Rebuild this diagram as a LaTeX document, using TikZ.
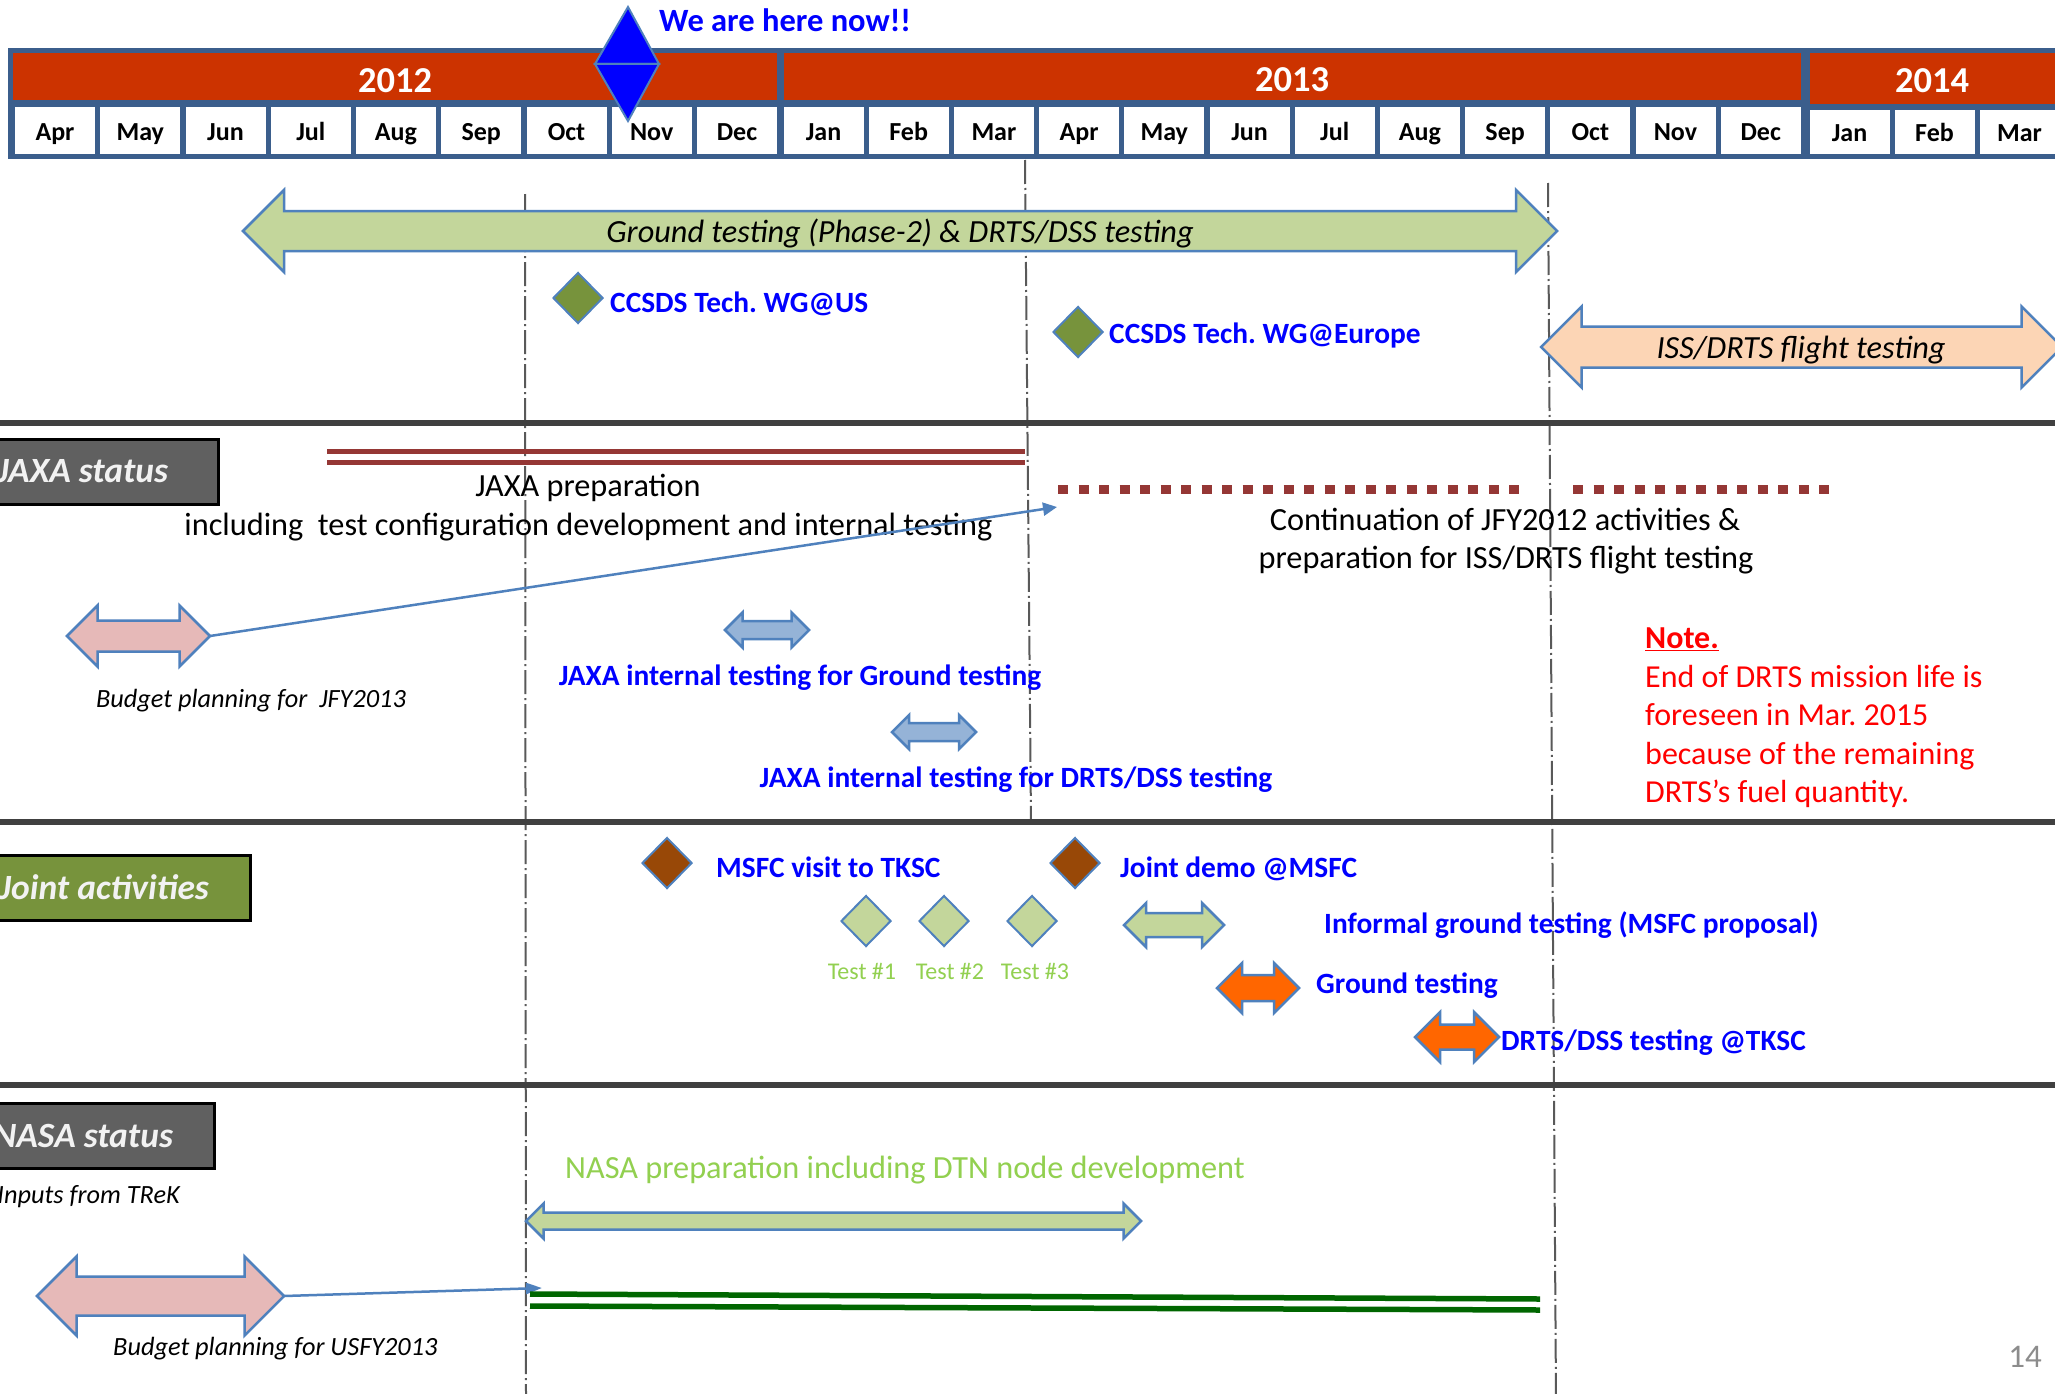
\documentclass[tikz,border=0pt]{standalone}
\usepackage{fontspec}
\setmainfont{Carlito}
\usetikzlibrary{arrows.meta,shapes.geometric,positioning}

\definecolor{yearred}{RGB}{204,51,0}
\definecolor{frameblue}{RGB}{59,94,140}
\definecolor{edgeblue}{RGB}{79,129,189}
\definecolor{textblue}{RGB}{0,0,255}
\definecolor{palegreen}{RGB}{195,214,155}
\definecolor{olivegreen}{RGB}{119,147,60}
\definecolor{peach}{RGB}{252,213,181}
\definecolor{rosepink}{RGB}{230,185,184}
\definecolor{steel}{RGB}{149,179,215}
\definecolor{flame}{RGB}{255,102,0}
\definecolor{rust}{RGB}{152,72,7}
\definecolor{maroon}{RGB}{149,55,53}
\definecolor{forest}{RGB}{0,102,0}
\definecolor{hdrgray}{RGB}{96,96,96}
\definecolor{rulegray}{RGB}{64,64,64}
\definecolor{testgreen}{RGB}{146,208,80}
\definecolor{dashgray}{RGB}{89,89,89}
\definecolor{pagegray}{RGB}{140,140,140}

\newcommand{\fsz}[1]{\fontsize{#1}{#1}\selectfont}
% name, style, x west, x east, y, shaft half, head half
\newcommand{\dblarrow}[7]{%
  \draw[#2] (#3,#5) coordinate (#1-w) -- ++(#7,-#7) -- ++(0,{#7-#6})
    -- ({#4-#7},{#5-#6}) -- ++(0,{#6-#7}) -- (#4,#5) coordinate (#1-e)
    -- ++(-#7,#7) -- ++(0,{#6-#7}) -- ({#3+#7},{#5+#6}) -- ++(0,{#7-#6}) -- cycle;}

\tikzset{
  month/.style={fill=white, minimum width=80pt, minimum height=47pt, inner sep=0pt, text height=20pt, text depth=0pt, font=\fsz{26}\bfseries},
  yeartxt/.style={text=white, inner sep=0pt, font=\fsz{36.5}\bfseries},
  plain/.style={inner sep=0pt, font=\fsz{32.3}},
  slant/.style={inner sep=0pt, font=\fsz{32.3}\itshape},
  small slant/.style={inner sep=0pt, font=\fsz{26.3}\itshape},
  event/.style={inner sep=0pt, text=textblue, font=\fsz{29.4}\bfseries},
  testlbl/.style={inner sep=0pt, text=testgreen, font=\fsz{24}},
  milestone/.style={diamond, draw=edgeblue, line width=2pt, minimum width=50pt, minimum height=51pt, inner sep=0pt},
  sechdr/.style={draw=black, line width=3pt, anchor=east, minimum height=65pt, inner ysep=0pt, text=white!95!black, font=\fsz{35.5}\bfseries\itshape},
  band/.style={draw=edgeblue, line width=2.5pt, line join=miter},
  nowmark/.style={fill=textblue, draw=edgeblue, line width=2pt, line join=miter},
  rulesep/.style={rulegray, line width=6pt},
  monthline/.style={dashgray, line width=2pt, dash pattern=on 24pt off 4pt on 2pt off 4pt},
  link/.style={edgeblue, line width=2.5pt, -{Triangle[length=14pt,width=13pt]}},
}

\begin{document}
\frenchspacing
\begin{tikzpicture}[x=1pt, y=-1pt]
\useasboundingbox (0,0) rectangle (2055,1394);
\fill[white] (0,0) rectangle (2055,1394);
\clip (0,0) rectangle (2055,1394);

% month guides
\coordinate (v1a) at (525,194);  \coordinate (v1b) at (526,1400);
\coordinate (v2a) at (1025,160); \coordinate (v2b) at (1031,822);
\coordinate (v3a) at (1548,183); \coordinate (v3b) at (1556,1400);
\draw[monthline] (v1a) -- (v1b);
\draw[monthline] (v2a) -- (v2b);
\draw[monthline] (v3a) -- (v3b);

% calendar
\fill[frameblue] (8,48) rectangle (2070,159);
\fill[yearred] (13,53) rectangle (777,100);
\fill[yearred] (784,53) rectangle (1801,100);
\fill[yearred] (1810,53) rectangle (2070,104);
\node[yeartxt, anchor=base] (y12) at (395,92.5) {2012};
\node[yeartxt, anchor=base] (y13) at (1292,92) {2013};
\node[yeartxt, anchor=base] (y14) at (1932,93) {2014};
\foreach \m [count=\i from 0] in {Apr,May,Jun,Jul,Aug,Sep,Oct,Nov,Dec}
  \node[month] (m12-\i) at ({55+85.25*\i},130.5) {\m};
\foreach \m [count=\i from 0] in {Jan,Feb,Mar,Apr,May,Jun,Jul,Aug,Sep,Oct,Nov,Dec}
  \node[month] (m13-\i) at ({823.5+85.2*\i},130.5) {\m};
\foreach \m [count=\i from 0] in {Jan,Feb,Mar}
  \node[month, minimum height=44pt] (m14-\i) at ({1849.5+85*\i},132) {\m};

\draw[nowmark] (628,7) -- (659,64) -- (595,64) -- cycle;
\draw[nowmark] (595,64) -- (659,64) -- (628,121) -- cycle;
\node[anchor=base west, inner sep=0pt, text=textblue, font=\fsz{32.5}\bfseries] (now) at (659,32) {We are here now!!};

% overall plan
\dblarrow{gt}{band, fill=palegreen}{243}{1557}{231}{20}{41}
\node[slant, anchor=base] (gtl) at (900,242) {Ground testing (Phase-2) \& DRTS/DSS testing};
\node[milestone, fill=olivegreen] (ccus) at (578,298) {};
\node[event, anchor=base west] (ccusl) at (610,312) {CCSDS Tech. WG@US};
\node[milestone, fill=olivegreen] (cceu) at (1078,332) {};
\node[event, anchor=base west] (cceul) at (1109,343) {CCSDS Tech. WG@Europe};
\dblarrow{iss}{band, fill=peach}{1541}{2062}{347}{20.5}{40.5}
\node[slant, anchor=base] (issl) at (1801,358) {ISS/DRTS flight testing};

% JAXA
\draw[rulesep] (0,423) -- (2055,423);
\node[sechdr, fill=hdrgray, inner xsep=50pt] (jaxa) at (219.5,471.5) {JAXA status};
\draw[maroon, line width=5pt] (327,451) -- (1025,451);
\draw[maroon, line width=5pt] (327,462) -- (1025,462);
\node[plain, anchor=base] (jprep) at (588,496) {JAXA preparation};
\node[plain, anchor=base] (jprep2) at (588.5,535) {including\ \ test configuration development and internal testing};
\draw[maroon, line width=9pt, dash pattern=on 10pt off 10.5pt] (1058,489) -- (1520,489);
\draw[maroon, line width=9pt, dash pattern=on 10pt off 10.5pt] (1573,489) -- (1831,489);
\node[plain, anchor=base] (cont1) at (1505,530) {Continuation of JFY2012 activities \&};
\node[plain, anchor=base] (cont2) at (1506,568) {preparation for ISS/DRTS flight testing};
\dblarrow{budj}{band, fill=rosepink}{67}{210}{636}{15.5}{30.5}
\node[small slant, anchor=base] (budjl) at (251,707) {Budget planning for\ \ JFY2013};
\coordinate (jtarget) at (1057,507);
\draw[link] (budj-e) -- (jtarget);
\dblarrow{jig}{band, fill=steel}{725}{809}{630}{9}{17.5}
\node[event, anchor=base] (jigl) at (800,685) {JAXA internal testing for Ground testing};
\dblarrow{jid}{band, fill=steel}{892}{976}{732}{9}{17}
\node[event, anchor=base] (jidl) at (1016,787) {JAXA internal testing for DRTS/DSS testing};
\node[anchor=north west, inner sep=0pt, text=red, align=left, font=\fontsize{32}{38.5}\selectfont] (note) at (1645,628)
  {\underline{\textbf{Note.}}\\End of DRTS mission life is\\foreseen in Mar. 2015\\because of the remaining\\DRTS’s fuel quantity.};

% joint
\draw[rulesep] (0,822) -- (2055,822);
\node[sechdr, fill=olivegreen, inner xsep=41pt] (joint) at (251.5,887.5) {Joint activities};
\node[milestone, fill=rust] (msfc) at (667,863) {};
\node[event, anchor=base west] (msfcl) at (716,877) {MSFC visit to TKSC};
\node[milestone, fill=rust] (jdemo) at (1075,863) {};
\node[event, anchor=base west] (jdemol) at (1120,877) {Joint demo @MSFC};
\foreach \x/\n/\dx in {866/1/-4,944/2/6,1032/3/3} {
  \node[milestone, fill=palegreen] (t\n) at (\x,921) {};
  \node[testlbl, below=16pt of t\n, xshift=\dx pt] (tl\n) {Test \#\n};
}
\dblarrow{inf}{band, fill=palegreen}{1124}{1224}{925}{12}{22}
\node[event, anchor=base west] (infl) at (1324,933) {Informal ground testing (MSFC proposal)};
\dblarrow{gnd}{band, fill=flame}{1217}{1299}{988}{13}{25}
\node[event, anchor=base west] (gndl) at (1316,993) {Ground testing};
\dblarrow{dss}{band, fill=flame}{1415}{1499}{1037}{12.5}{25}
\node[event, anchor=base west] (dssl) at (1501,1050) {DRTS/DSS testing @TKSC};

% NASA
\draw[rulesep] (0,1085) -- (2055,1085);
\node[sechdr, fill=hdrgray, inner xsep=41pt] (nasa) at (215.5,1135.5) {NASA status};
\node[small slant, anchor=base east] (trek) at (180,1203) {Inputs from TReK};
\node[plain, text=testgreen, anchor=base west] (nprepl) at (565,1178) {NASA preparation including DTN node development};
\dblarrow{nprep}{band, fill=palegreen}{526}{1141}{1221}{8.5}{17.5}
\dblarrow{budu}{band, fill=rosepink}{37}{284}{1296}{19.5}{39.5}
\node[small slant, anchor=base west] (budul) at (113,1355) {Budget planning for USFY2013};
\coordinate (ntarget) at (542,1288);
\draw[link, -{Triangle[length=16pt,width=11pt]}] (budu-e) -- (ntarget);
\draw[forest, line width=5.5pt] (530,1294) -- (1540,1299);
\draw[forest, line width=5.5pt] (530,1306) -- (1540,1310);
\node[anchor=base east, inner sep=0pt, text=pagegray, font=\fsz{33}] (page) at (2042,1367) {14};
\end{tikzpicture}
\end{document}
